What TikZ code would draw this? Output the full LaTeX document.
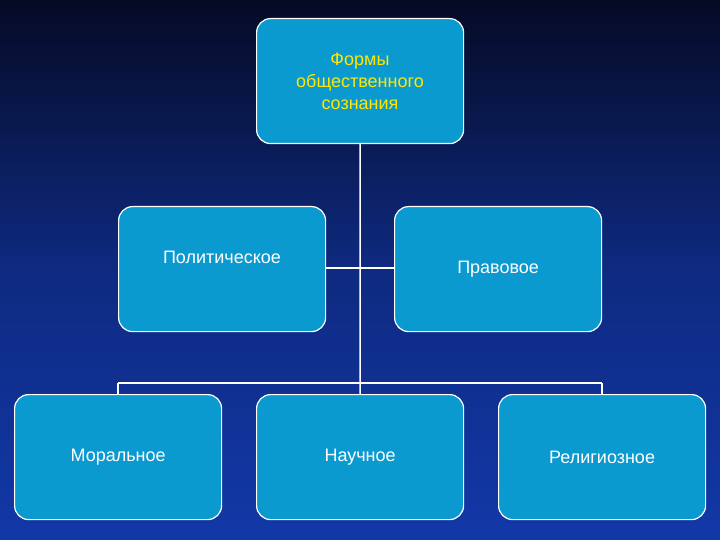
\documentclass[tikz,border=0pt]{standalone}
\usepackage{fontspec}
\setmainfont{Liberation Sans}
\begin{document}
\begin{tikzpicture}[x=1pt,y=-1pt,
  box/.style={draw=white,line width=1.2pt,fill=boxblue,rounded corners=14pt,minimum width=207pt,minimum height=125pt,anchor=north west,text=white,font=\fontsize{18}{22}\selectfont,align=center},
  conn/.style={draw=white,line width=1.5pt,double=white,double distance=0pt}]
\definecolor{boxblue}{HTML}{0A9AD0}
\definecolor{bgtop}{HTML}{050A25}
\definecolor{bgbot}{HTML}{1238A8}
\shade[top color=bgtop,bottom color=bgbot,middle color=bgbot!70!bgtop] (0,0) rectangle (720,540);
\useasboundingbox (0,0) rectangle (720,540);
\node[box] (top) at (256,18) {};
\node[text=yellow!90!orange,font=\fontsize{18}{22}\selectfont,align=center] (tt) at (360,81) {Формы\\общественного\\сознания};
\node[box] (pol) at (118,206) {};
\node[text=white,font=\fontsize{18}{22}\selectfont] (polt) at (222,257) {Политическое};
\node[box] (pra) at (394,206) {Правовое};
\node[box] (mor) at (14,394) {Моральное};
\node[box] (nau) at (256,394) {Научное};
\node[box] (rel) at (498,394) {Религиозное};
\coordinate (j1) at (360,268);
\coordinate (j2) at (360,383);
\coordinate (l2) at (118,383);
\coordinate (r2) at (602,383);
\draw[white,line width=1.5pt] (top.south) -- (j2);
\draw[white,line width=1.5pt] (pol.east |- j1) -- (pra.west |- j1);
\draw[white,line width=1.5pt] (l2) -- (r2);
\draw[white,line width=1.5pt] (l2) -- (mor.north -| l2);
\draw[white,line width=1.5pt] (j2) -- (nau.north);
\draw[white,line width=1.5pt] (r2) -- (rel.north -| r2);
\end{tikzpicture}
\end{document}
